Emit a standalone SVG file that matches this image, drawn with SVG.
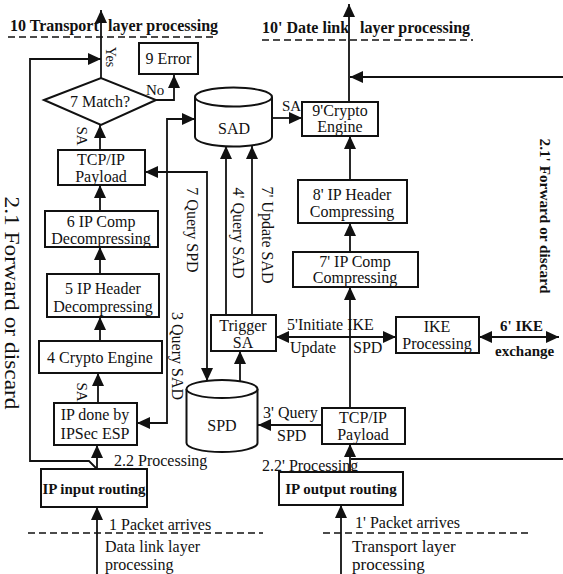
<svg xmlns="http://www.w3.org/2000/svg" width="563" height="574" viewBox="0 0 563 574">
<defs>
<marker id="ah" markerUnits="userSpaceOnUse" markerWidth="13" markerHeight="12" refX="13" refY="6" orient="auto-start-reverse">
<path d="M0,0 L13,6 L0,12 z" fill="#111"/>
</marker>
<style>
text{font-family:"Liberation Serif","Times New Roman",serif;font-size:16px;fill:#111}
.c{text-anchor:middle}
.b{font-weight:bold}
.box{fill:#fff;stroke:#111;stroke-width:2}
.ln{fill:none;stroke:#111;stroke-width:1.8}
.ar{marker-end:url(#ah)}
.ar2{marker-start:url(#ah);marker-end:url(#ah)}
.dash{fill:none;stroke:#111;stroke-width:1.6;stroke-dasharray:7,4}
</style>
</defs>
<rect width="563" height="574" fill="#fff"/>

<g id="connectors">
<path class="ln ar" d="M97,574 L97,507"/>
<path class="ln ar" d="M97,469 L97,445"/>
<path class="ln ar" d="M98,403 L98,373"/>
<path class="ln ar" d="M100,341 L100,317"/>
<path class="ln ar" d="M100,274 L100,247"/>
<path class="ln ar" d="M100,211 L100,185"/>
<path class="ln ar" d="M100,150 L100,125"/>
<path class="ln ar" d="M101,78 L101,10"/>
<path class="ln ar" d="M156,100 L174,100 L174,75"/>
<path class="ln ar" d="M97,469 L89,461 L30,461 L30,59 L101,59"/>
<path class="ln ar2" d="M137,423 L167,423 L167,119 L195,119"/>
<path class="ln ar2" d="M145,172 L207,172 L207,381"/>
<path class="ln ar" d="M226,315 L226,146"/>
<path class="ln ar" d="M252,315 L252,146"/>
<path class="ln ar" d="M240,381 L240,351"/>
<path class="ln ar" d="M272,118 L302,118"/>
<path class="ln ar" d="M322,425 L258,425"/>
<path class="ln ar2" d="M276,337 L396,337"/>
<path class="ln ar2" d="M479,337 L559,337"/>
<path class="ln ar" d="M341,574 L341,505"/>
<path class="ln ar" d="M350,472 L350,444"/>
<path class="ln" d="M563,459 L351,459"/>
<path class="ln ar" d="M350,408 L350,287"/>
<path class="ln ar" d="M350,252 L350,223"/>
<path class="ln ar" d="M350,180 L350,136"/>
<path class="ln ar" d="M349,102 L349,4"/>
<path class="ln ar" d="M563,77 L350,77"/>
<path class="dash" d="M8,37 L215,37"/>
<path class="dash" d="M262,40 L473,40"/>
<path class="dash" d="M28,533 L263,533"/>
<path class="dash" d="M323,533 L532,533"/>
</g>

<g id="labels">
<text class="b" x="10" y="31">10 Transport<tspan x="108">layer processing</tspan></text>
<text class="b" x="262" y="33">10' Date link<tspan x="360">layer processing</tspan></text>
<text class="c" transform="translate(111,57) rotate(90)" dy="0.35em" style="font-size:14px">Yes</text>
<text x="146" y="95" style="font-size:15px">No</text>
<text class="c" transform="translate(82,136) rotate(90)" dy="0.35em" style="font-size:15px">SA</text>
<text class="c" transform="translate(82,392) rotate(90)" dy="0.35em" style="font-size:15px">SA</text>
<text class="c" transform="translate(193,230) rotate(90)" dy="0.35em">7 Query SPD</text>
<text class="c" transform="translate(239,233) rotate(90)" dy="0.35em">4' Query SAD</text>
<text class="c" transform="translate(268,235) rotate(90)" dy="0.35em">7' Update SAD</text>
<text class="c" transform="translate(178,356) rotate(90)" dy="0.35em">3 Query SAD</text>
<text class="c" transform="translate(13,303) rotate(90)" dy="0.35em" style="font-size:22px" textLength="213" lengthAdjust="spacingAndGlyphs">2.1 Forward or discard</text>
<text class="c b" transform="translate(545,216) rotate(90)" dy="0.35em" style="font-size:14px" textLength="155" lengthAdjust="spacingAndGlyphs">2.1' Forward or discard</text>
<text x="282" y="111" style="font-size:15px">SA</text>
<text x="287" y="330">5'Initiate IKE</text>
<text x="290" y="353">Update</text>
<text x="353" y="353">SPD</text>
<text class="b" x="500" y="331" style="font-size:15px">6' IKE</text>
<text class="b" x="495" y="356" style="font-size:15px">exchange</text>
<text x="263" y="418">3' Query</text>
<text x="277" y="441">SPD</text>
<text x="114" y="466">2.2 Processing</text>
<text x="262" y="471">2.2' Processing</text>
<text x="109" y="530">1 Packet arrives</text>
<text x="105" y="552">Data link layer</text>
<text x="105" y="570">processing</text>
<text x="355" y="528">1' Packet arrives</text>
<text x="352" y="552" style="font-size:17px">Transport layer</text>
<text x="352" y="570" style="font-size:17px">processing</text>
</g>

<g id="n-error"><rect class="box" x="139" y="43" width="59" height="31"/><text class="c" x="168.5" y="64">9 Error</text></g>
<g id="n-match"><polygon class="box" points="44,100 101,78 156,100 101,125"/><text class="c" x="100" y="107">7 Match?</text></g>
<g id="n-payload-in"><rect class="box" x="58" y="150" width="87" height="35"/><text class="c" x="101" y="165">TCP/IP</text><text class="c" x="101" y="182">Payload</text></g>
<g id="n-comp6"><rect class="box" x="45" y="211" width="113" height="36"/><text class="c" x="101" y="227">6 IP Comp</text><text class="c" x="101" y="244">Decompressing</text></g>
<g id="n-hdr5"><rect class="box" x="47" y="274" width="112" height="43"/><text class="c" x="103" y="294">5 IP Header</text><text class="c" x="103" y="312">Decompressing</text></g>
<g id="n-crypto4"><rect class="box" x="39" y="341" width="123" height="32"/><text class="c" x="100" y="363">4 Crypto Engine</text></g>
<g id="n-ipdone"><rect class="box" x="54" y="403" width="83" height="42"/><text class="c" x="95" y="420">IP done by</text><text class="c" x="95" y="439">IPSec ESP</text></g>
<g id="n-ipin"><rect class="box" x="41" y="469" width="106" height="38"/><text class="c b" x="94" y="494" style="font-size:15px">IP input routing</text></g>
<g id="n-sad"><path class="box" d="M195,97 L195,137 A38.5,9.5 0 0 0 272,137 L272,97"/><ellipse class="box" cx="233.5" cy="97" rx="38.5" ry="9.5"/><text class="c" x="234" y="134">SAD</text></g>
<g id="n-crypto9"><rect class="box" x="302" y="102" width="76" height="34"/><text class="c" x="340" y="116">9'Crypto</text><text class="c" x="340" y="132">Engine</text></g>
<g id="n-hdr8"><rect class="box" x="298" y="180" width="109" height="43"/><text class="c" x="352" y="200">8' IP Header</text><text class="c" x="352" y="217">Compressing</text></g>
<g id="n-comp7"><rect class="box" x="293" y="252" width="125" height="35"/><text class="c" x="355" y="267">7' IP Comp</text><text class="c" x="355" y="283">Compressing</text></g>
<g id="n-trigger"><rect class="box" x="211" y="315" width="65" height="36"/><text class="c" x="243" y="331">Trigger</text><text class="c" x="243" y="348">SA</text></g>
<g id="n-ike"><rect class="box" x="396" y="317" width="83" height="36"/><text class="c" x="437" y="332">IKE</text><text class="c" x="437" y="349">Processing</text></g>
<g id="n-spd"><path class="box" d="M186.5,389 L186.5,443 A35.5,9 0 0 0 257.5,443 L257.5,389"/><ellipse class="box" cx="222" cy="389" rx="35.5" ry="9"/><text class="c" x="222" y="431">SPD</text></g>
<g id="n-payload-out"><rect class="box" x="322" y="408" width="83" height="36"/><text class="c" x="363" y="423">TCP/IP</text><text class="c" x="363" y="440">Payload</text></g>
<g id="n-ipout"><rect class="box" x="279" y="472" width="124" height="33"/><text class="c b" x="341" y="494" style="font-size:15px">IP output routing</text></g>
</svg>
